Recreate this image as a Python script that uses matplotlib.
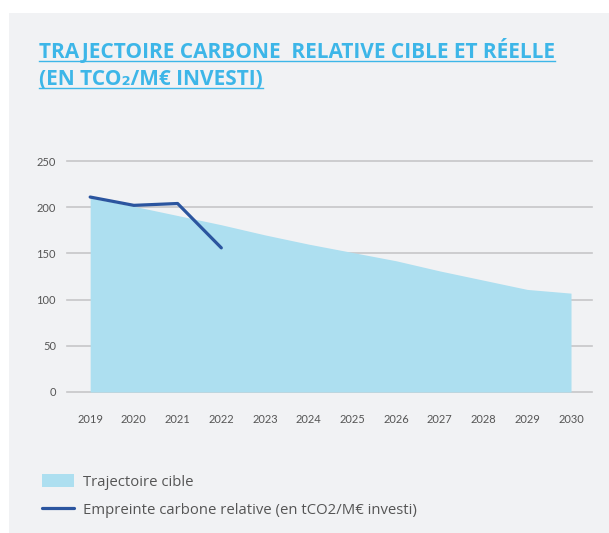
import matplotlib
matplotlib.use("Agg")
import matplotlib.pyplot as plt
from matplotlib.patches import Rectangle
from matplotlib.lines import Line2D
import numpy as np

# Data
years = [2019, 2020, 2021, 2022, 2023, 2024, 2025, 2026, 2027, 2028, 2029, 2030]
target = [210, 201, 191, 181, 170, 160, 151, 142, 131, 121, 111, 107]
actual_years = [2019, 2020, 2021, 2022]
actual = [211, 202, 204, 156]
y_ticks = [0, 50, 100, 150, 200, 250]

title_lines = ["TRAJECTOIRE CARBONE  RELATIVE CIBLE ET RÉELLE",
               "(EN TCO₂/M€ INVESTI)"]
label_target = "Trajectoire cible"
label_actual = "Empreinte carbone relative (en tCO2/M€ investi)"

BG = "#f1f2f4"
FILL = "#addff0"
LINE = "#2b559f"
TITLE_C = "#3db6e8"
GRID = "#c6c6c8"
TXT = "#555555"
FONT = ["Lato", "DejaVu Sans"]
FONT_WIDE = ["Open Sans", "DejaVu Sans"]

fig = plt.figure(figsize=(6.09, 5.33), dpi=100, facecolor="white")
fig.add_artist(Rectangle((9 / 609, 0), 1, 1 - 13 / 533, transform=fig.transFigure,
                         facecolor=BG, edgecolor="none", zorder=-10))

ax = fig.add_axes([67 / 609, 1 - 392 / 533, 525 / 609, 231 / 533])
ax.set_facecolor("none")
ax.fill_between(years, target, 0, color=FILL, linewidth=0, zorder=1,
                label=label_target)
ax.plot(actual_years, actual, color=LINE, linewidth=2.3, zorder=3,
        solid_capstyle="round", label=label_actual)

ax.set_xlim(2018.47, 2030.48)
ax.set_ylim(0, 250)
ax.set_yticks(y_ticks)
ax.set_xticks(years)
for y in y_ticks:
    ax.axhline(y, color=GRID, linewidth=1.2, zorder=0, clip_on=False)
for s in ax.spines.values():
    s.set_visible(False)
ax.tick_params(length=0, labelsize=8, labelcolor=TXT)
ax.tick_params(axis="x", pad=16)
ax.tick_params(axis="y", pad=8)
for lab in ax.get_xticklabels() + ax.get_yticklabels():
    lab.set_family(FONT)

# Title with underline, stretched to the panel width
fig.canvas.draw()
renderer = fig.canvas.get_renderer()
title_size = 13.5
probe = fig.text(0, 0, title_lines[0], fontsize=title_size, fontweight="bold", family=FONT_WIDE)
w = probe.get_window_extent(renderer).width
probe.remove()
title_size *= (553 - 39) / w
for i, line in enumerate(title_lines):
    ypix = 58 + i * 27
    t = fig.text(39 / 609, 1 - ypix / 533, line, color=TITLE_C, fontsize=title_size,
                 fontweight="bold", family=FONT_WIDE, va="baseline", ha="left")
    bb = t.get_window_extent(renderer)
    yl = 1 - (ypix + 3) / 533
    fig.add_artist(Line2D([bb.x0 / fig.bbox.width, bb.x1 / fig.bbox.width], [yl, yl],
                          transform=fig.transFigure, color=TITLE_C, linewidth=1.0))

leg = fig.legend(loc="upper left", bbox_to_anchor=(42 / 609, 1 - 474 / 533),
                 frameon=False, handlelength=2.15, handleheight=1.0,
                 labelspacing=0.82, handletextpad=0.6, borderpad=0, borderaxespad=0,
                 prop={"family": FONT_WIDE, "size": 10.7})
for txt in leg.get_texts():
    txt.set_color(TXT)

fig.savefig("out.png", dpi=100, facecolor="white")
